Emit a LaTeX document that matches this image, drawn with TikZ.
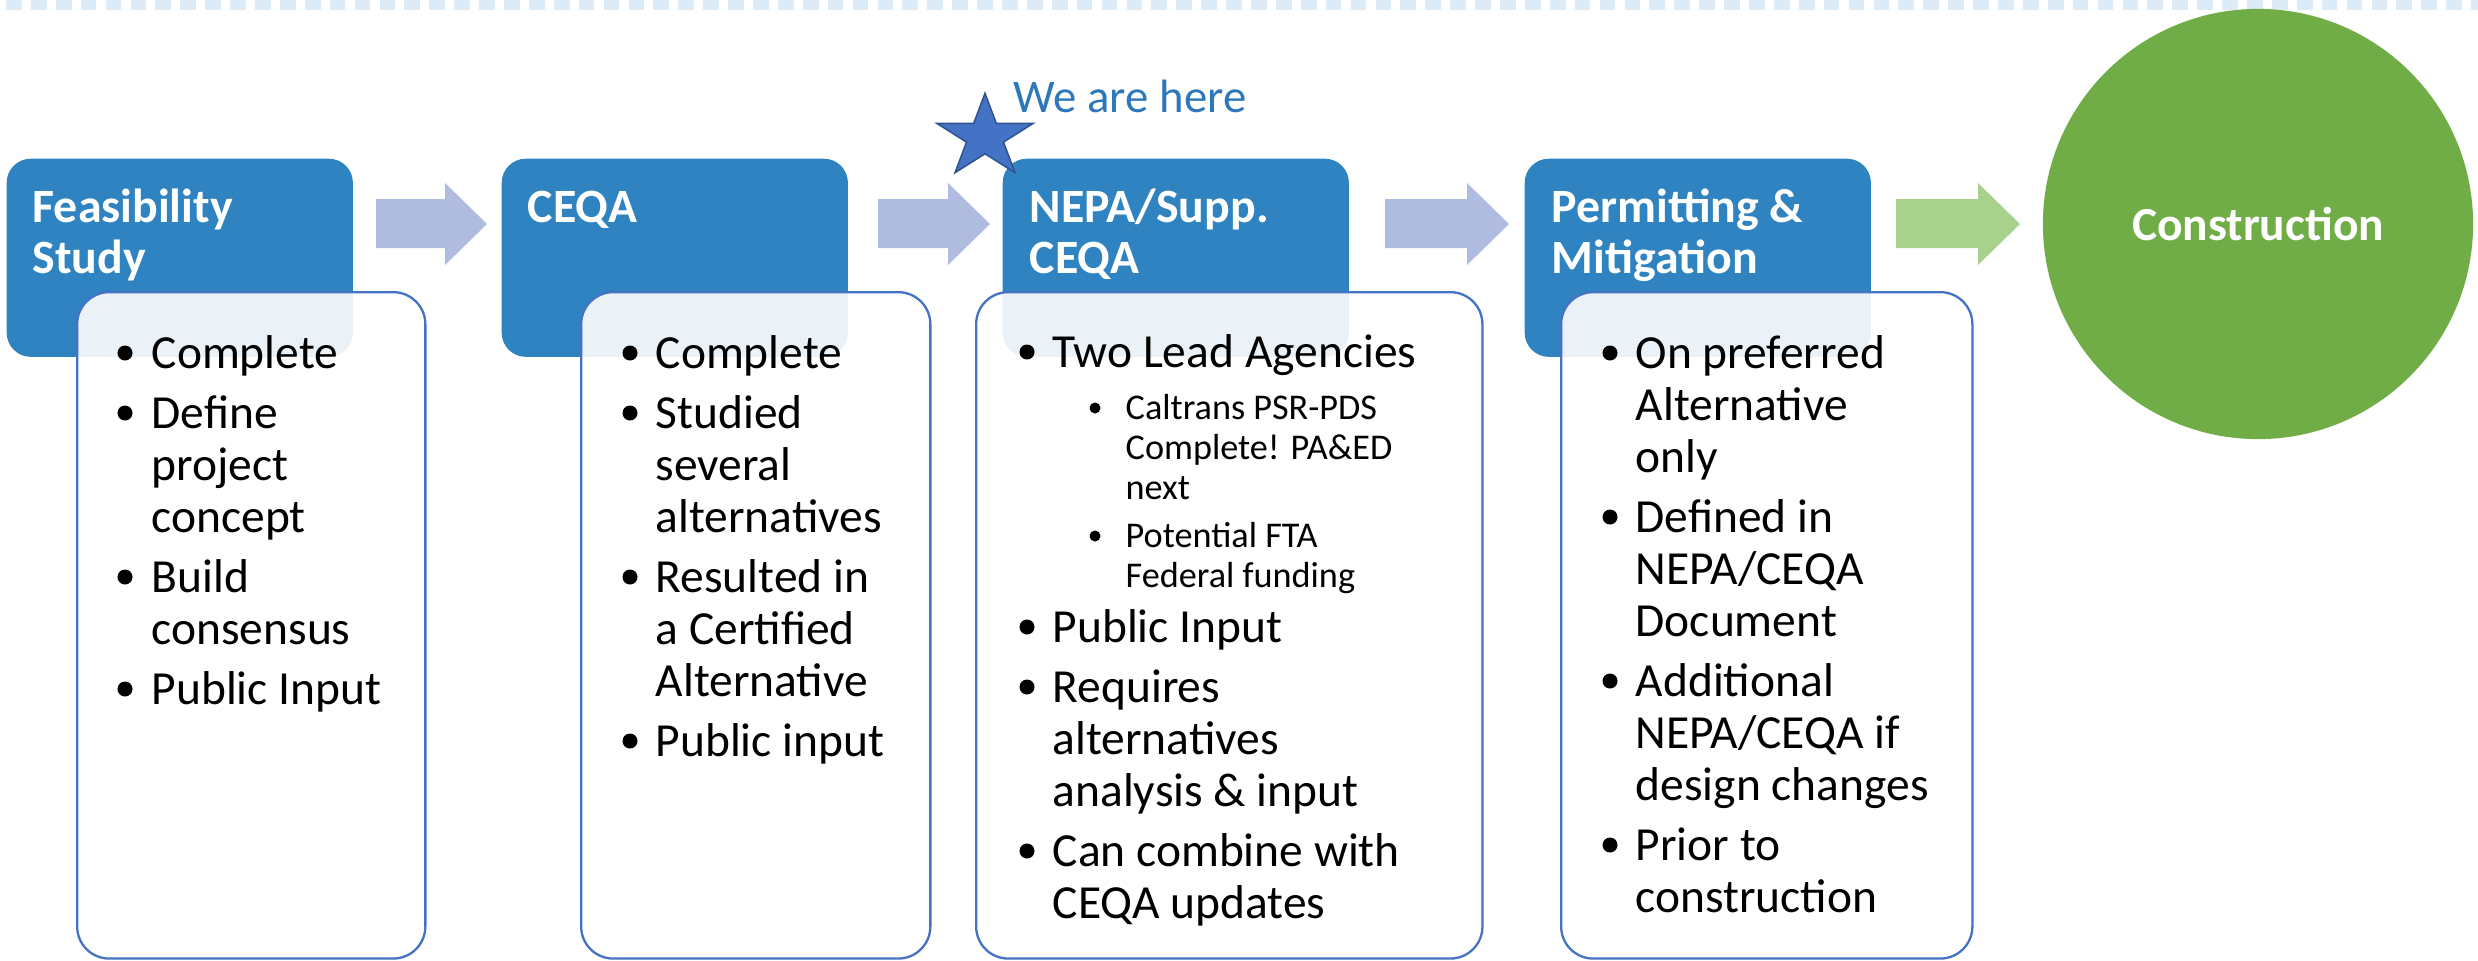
\documentclass[tikz,border=0pt]{standalone}
\usepackage{fontspec}
\setmainfont{Carlito}
\definecolor{hdrblue}{HTML}{2E83C0}
\definecolor{boxline}{HTML}{4472C4}
\definecolor{arrowc}{HTML}{B0BCDF}
\definecolor{garrow}{HTML}{A9D18E}
\definecolor{cgreen}{HTML}{70AD47}
\definecolor{starfill}{HTML}{4472C4}
\definecolor{stardraw}{HTML}{2F528F}
\definecolor{herec}{HTML}{2E78BA}
\definecolor{dashc}{HTML}{DDEBF7}
\begin{document}
\begin{tikzpicture}[x=0.01cm,y=-0.01cm,
  hdr/.style={fill=hdrblue, draw=none, rounded corners=0.24cm, anchor=north west,
    minimum width=3.46cm, minimum height=1.98cm, inner sep=0},
  body/.style={fill=white, fill opacity=0.9, draw=boxline, line width=0.023cm,
    rounded corners=0.32cm, anchor=north west, inner sep=0, minimum height=6.66cm},
  hdrtxt/.style={anchor=base west, inner sep=0, text=white,
    font=\fontsize{13.6pt}{14.51pt}\selectfont\bfseries},
  bodytxt/.style={anchor=base west, inner sep=0,
    font=\fontsize{13.5pt}{14.79pt}\selectfont},
  subtxt/.style={anchor=base west, inner sep=0,
    font=\fontsize{10.3pt}{11.38pt}\selectfont},
  bul/.style={fill=black},
]
\useasboundingbox (0,0) rectangle (2478,960);

% top dashed border
\foreach \i in {0,...,99}
  \fill[dashc] ({6+24.9*\i},0) rectangle ++(15.7,10);

% header boxes
\node[hdr] (h1) at (6,158) {};
\node[hdr] (h2) at (501,158) {};
\node[hdr] (h3) at (1002,158) {};
\node[hdr] (h4) at (1524,158) {};

% block arrows
\foreach \s/\t/\c in {376/487/arrowc, 878/990/arrowc, 1385/1509/arrowc, 1896/2020/garrow}
  \fill[\c] (\s,199) -- (\t-42,199) -- (\t-42,183) -- (\t,224) -- (\t-42,265)
    -- (\t-42,248) -- (\s,248) -- cycle;

% body boxes
\node[body, minimum width=3.48cm] (w1) at (76,291) {};
\node[body, minimum width=3.49cm] (w2) at (580,291) {};
\node[body, minimum width=5.06cm] (w3) at (975,291) {};
\node[body, minimum width=4.11cm] (w4) at (1560,291) {};

% header texts
\node[hdrtxt] (ht1) at (32,222) {\parbox[t]{3.2cm}{Feasibility\\Study}};
\node[hdrtxt] (ht2) at (527,222) {\parbox[t]{3.2cm}{CEQA}};
\node[hdrtxt] (ht3) at (1029,222) {\parbox[t]{3.2cm}{NEPA/Supp.\\CEQA}};
\node[hdrtxt] (ht4) at (1551,222) {\parbox[t]{3.2cm}{Permitting \&\\Mitigation}};

% body texts
\node[bodytxt] (t1) at (151,368) {\parbox[t]{3.2cm}{Complete\\[0.08cm]Define\\project\\concept\\[0.08cm]Build\\consensus\\[0.08cm]Public Input}};
\node[bodytxt] (t2) at (655,368) {\parbox[t]{3.2cm}{Complete\\[0.08cm]Studied\\several\\alternatives\\[0.08cm]Resulted in\\a Certified\\Alternative\\[0.08cm]Public input}};
\node[bodytxt] (t3a) at (1052,367) {\parbox[t]{4.3cm}{Two Lead Agencies}};
\node[subtxt] (t3b) at (1125,419) {\parbox[t]{3.5cm}{Caltrans PSR-PDS\\Complete! PA\&ED\\next\\[0.08cm]Potential FTA\\Federal funding}};
\node[bodytxt] (t3c) at (1052,642) {\parbox[t]{4.3cm}{Public Input\\[0.08cm]Requires\\alternatives\\analysis \& input\\[0.08cm]Can combine with\\CEQA updates}};
\node[bodytxt] (t4) at (1635,368) {\parbox[t]{3.6cm}{On preferred\\Alternative\\only\\[0.08cm]Defined in\\NEPA/CEQA\\Document\\[0.08cm]Additional\\NEPA/CEQA if\\design changes\\[0.08cm]Prior to\\construction}};

% bullets
\foreach \x/\y in {125/368, 125/428, 125/592, 125/704,
                   630/368, 630/428, 630/592, 630/756,
                   1027/367, 1027/642, 1027/702, 1027/866,
                   1610/368, 1610/532, 1610/696, 1610/860}
  \fill[bul] (\x,\y-15) circle (0.075cm);
\foreach \x/\y in {1095/419, 1095/547}
  \fill[bul] (\x,\y-11) circle (0.055cm);

% star and label
\filldraw[fill=starfill, draw=stardraw, line width=0.015cm, line join=miter]
  (985,93.3) -- (996.3,123.3) -- (1033.3,123.3) -- (1003.5,142.1) -- (1015,172.7)
  -- (985,153.8) -- (955,172.7) -- (966.5,142.1) -- (936.7,123.3) -- (973.7,123.3) -- cycle;
\node[anchor=base west, inner sep=0, text=herec, font=\fontsize{13.3pt}{14.5pt}\selectfont]
  (here) at (1013,112) {We are here};

% construction circle
\node[circle, fill=cgreen, minimum size=4.3cm, inner sep=0, text=white,
  font=\fontsize{13.5pt}{14.5pt}\selectfont\bfseries] (con) at (2258,224) {Construction};
\end{tikzpicture}
\end{document}
